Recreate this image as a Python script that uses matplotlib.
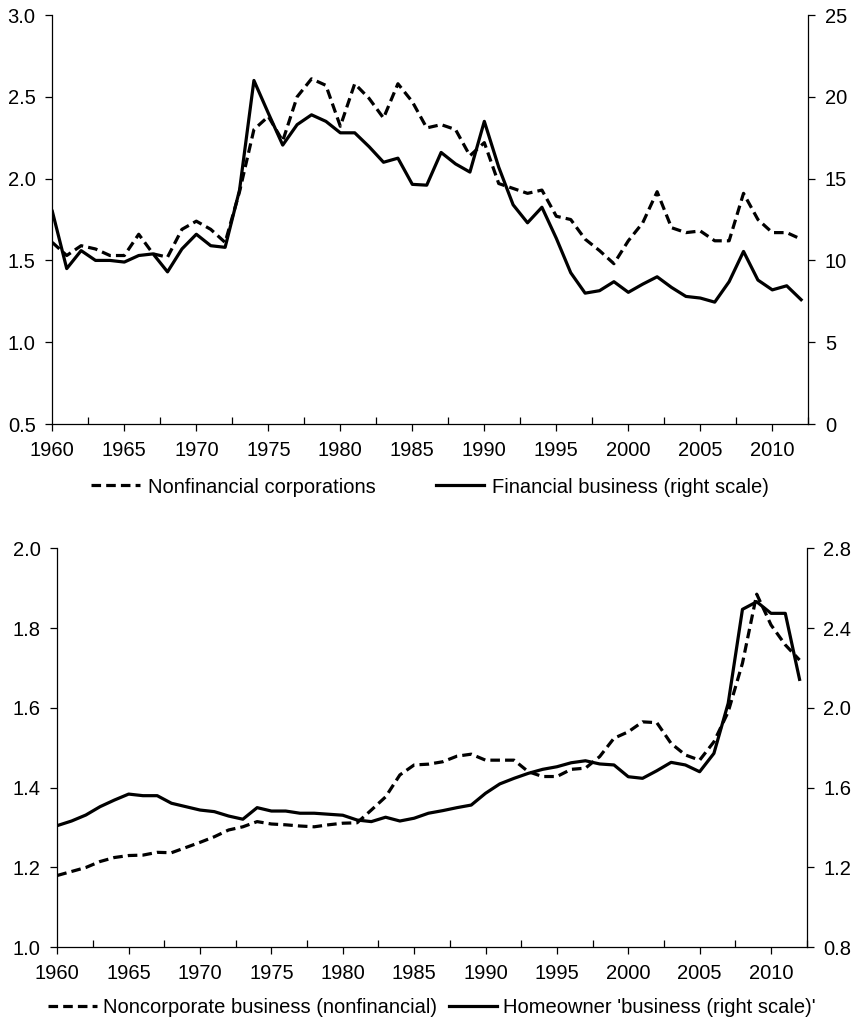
import matplotlib.pyplot as plt
import numpy as np

plt.rcParams['font.family'] = ['Liberation Sans', 'DejaVu Sans']
plt.rcParams['font.size'] = 14.5

years = np.arange(1960, 2013)

# top panel
nonfin_corp = [1.61, 1.53, 1.59, 1.57, 1.53, 1.53, 1.66, 1.54, 1.52, 1.69,
               1.74, 1.69, 1.61, 1.92, 2.30, 2.38, 2.23, 2.50, 2.61, 2.57,
               2.32, 2.58, 2.49, 2.37, 2.58, 2.47, 2.31, 2.33, 2.30, 2.14,
               2.22, 1.97, 1.94, 1.91, 1.93, 1.77, 1.75, 1.63, 1.56, 1.48,
               1.62, 1.73, 1.92, 1.70, 1.67, 1.68, 1.62, 1.62, 1.91, 1.75,
               1.67, 1.67, 1.63]
fin_business = [13.0, 9.5, 10.6, 10.0, 10.0, 9.9, 10.3, 10.4, 9.3, 10.7,
                11.6, 10.9, 10.8, 14.3, 21.0, 19.0, 17.05, 18.3, 18.9, 18.5,
                17.8, 17.8, 16.95, 16.0, 16.25, 14.65, 14.6, 16.6, 15.9, 15.4,
                18.5, 15.7, 13.4, 12.3, 13.25, 11.35, 9.25, 8.0, 8.15, 8.7,
                8.05, 8.55, 9.0, 8.35, 7.8, 7.7, 7.45, 8.7, 10.55, 8.8,
                8.2, 8.45, 7.6]

# bottom panel
noncorp_business = [1.18, 1.19, 1.20, 1.215, 1.225, 1.23, 1.231, 1.238, 1.237, 1.25,
                    1.263, 1.277, 1.294, 1.302, 1.315, 1.309, 1.307, 1.304, 1.302, 1.307,
                    1.311, 1.312, 1.344, 1.377, 1.432, 1.457, 1.459, 1.465, 1.479, 1.484,
                    1.469, 1.469, 1.469, 1.44, 1.428, 1.428, 1.446, 1.449, 1.478, 1.524,
                    1.54, 1.565, 1.563, 1.511, 1.482, 1.469, 1.515, 1.59, 1.712, 1.885,
                    1.808, 1.758, 1.72]
homeowner = [1.41, 1.433, 1.463, 1.505, 1.538, 1.568, 1.56, 1.56, 1.522, 1.505,
             1.488, 1.48, 1.458, 1.442, 1.50, 1.483, 1.483, 1.472, 1.472, 1.467,
             1.462, 1.438, 1.43, 1.452, 1.433, 1.447, 1.472, 1.485, 1.50, 1.513,
             1.572, 1.619, 1.647, 1.672, 1.692, 1.705, 1.725, 1.735, 1.719, 1.714,
             1.655, 1.647, 1.685, 1.727, 1.714, 1.68, 1.772, 2.023, 2.494, 2.532,
             2.474, 2.474, 2.143]

x_labels = np.arange(1960, 2011, 5)
x_minor = np.arange(1962.5, 2013, 5)

fig = plt.figure(figsize=(8.55, 10.22), dpi=100)
ax1 = fig.add_axes([0.0612, 0.5851, 0.8842, 0.4002])
ax3 = fig.add_axes([0.0670, 0.0731, 0.8765, 0.3904])


def style(ax, ax2, left_ticks, right_ticks, fmt_l, fmt_r):
    ax.set_xlim(1960, 2012.5)
    ax.set_xticks(x_labels)
    ax.set_xticks(x_minor, minor=True)
    ax.set_ylim(left_ticks[0], left_ticks[-1])
    ax.set_yticks(left_ticks)
    ax.set_yticklabels([fmt_l.format(v) for v in left_ticks])
    ax2.set_ylim(right_ticks[0], right_ticks[-1])
    ax2.set_yticks(right_ticks)
    ax2.set_yticklabels([fmt_r.format(v) for v in right_ticks])
    for a in (ax, ax2):
        a.spines['top'].set_visible(False)
        for s in a.spines.values():
            s.set_linewidth(0.9)
    ax.spines['right'].set_visible(False)
    ax2.spines['left'].set_visible(False)
    ax2.spines['bottom'].set_visible(False)
    ax.tick_params(axis='x', which='major', direction='out', length=5, width=0.9, pad=7)
    ax.tick_params(axis='x', which='minor', direction='in', length=5, width=0.9)
    ax.tick_params(axis='y', direction='out', length=5, width=0.9, pad=7)
    ax2.tick_params(axis='y', direction='out', length=5, width=0.9, pad=7)


dash = (3.0, 1.6)

ax2 = ax1.twinx()
l1, = ax1.plot(years, nonfin_corp, color='black', lw=2.3, dashes=dash)
l2, = ax2.plot(years, fin_business, color='black', lw=2.3)
style(ax1, ax2, [0.5, 1.0, 1.5, 2.0, 2.5, 3.0], [0, 5, 10, 15, 20, 25], '{:.1f}', '{:.0f}')
ax1.legend([l1, l2], ['Nonfinancial corporations', 'Financial business (right scale)'],
           loc='center', bbox_to_anchor=(0.5, -0.154), ncol=2, frameon=False,
           handlelength=2.4, handletextpad=0.4, columnspacing=3.0)

ax4 = ax3.twinx()
l3, = ax3.plot(years, noncorp_business, color='black', lw=2.3, dashes=dash)
l4, = ax4.plot(years, homeowner, color='black', lw=2.3)
style(ax3, ax4, [1.0, 1.2, 1.4, 1.6, 1.8, 2.0], [0.8, 1.2, 1.6, 2.0, 2.4, 2.8], '{:.1f}', '{:.1f}')
ax3.legend([l3, l4], ['Noncorporate business (nonfinancial)', "Homeowner 'business (right scale)'"],
           loc='center', bbox_to_anchor=(0.5, -0.152), ncol=2, frameon=False,
           handlelength=2.4, handletextpad=0.3, columnspacing=0.6)

fig.savefig('out.png', dpi=100)
